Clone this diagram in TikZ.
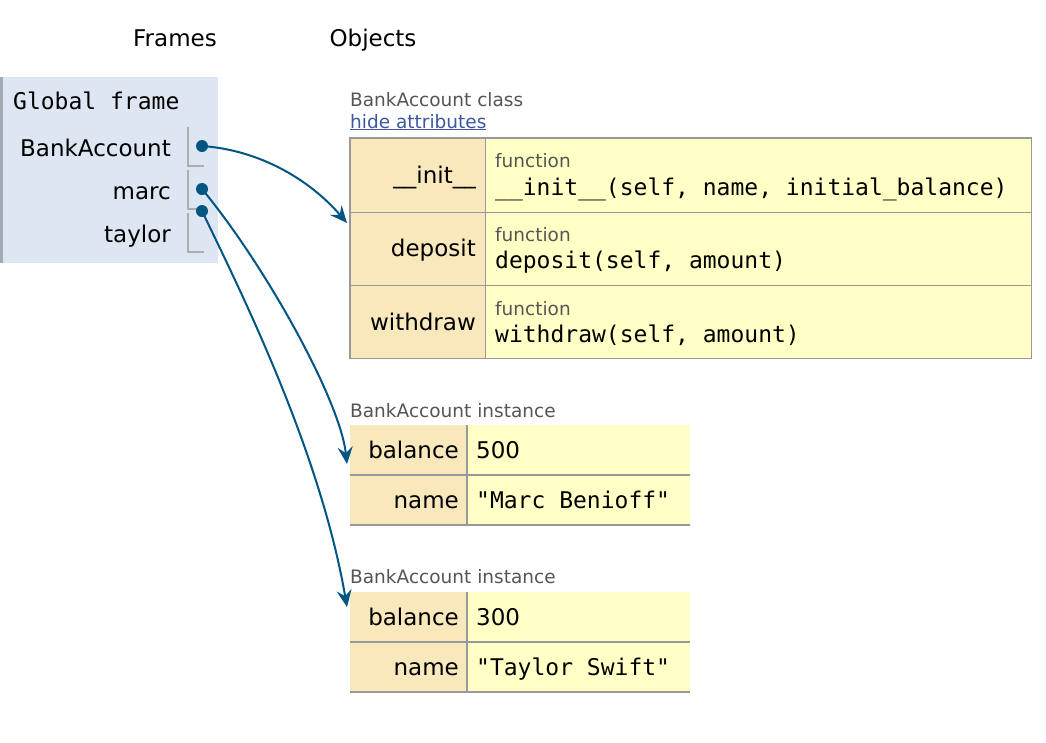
\documentclass[tikz,border=0pt]{standalone}
\usepackage{fontspec}
\setmainfont{DejaVu Sans}
\setmonofont{DejaVu Sans Mono}
\usetikzlibrary{arrows.meta}
\definecolor{framebg}{HTML}{DDE6F2}
\definecolor{framebar}{HTML}{A3AAB2}
\definecolor{keybg}{HTML}{F8E8BC}
\definecolor{valbg}{HTML}{FFFFC6}
\definecolor{cellline}{HTML}{999999}
\definecolor{ptrblue}{HTML}{005583}
\definecolor{linkblue}{HTML}{3D58A2}
\definecolor{labelgray}{HTML}{555555}
\tikzset{
  bigtext/.style={inner sep=0pt, font=\fontsize{23}{27}\selectfont},
  varname/.style={bigtext, anchor=base east},
  valtext/.style={bigtext, anchor=base west},
  codetext/.style={inner sep=0pt, anchor=base west, font=\fontsize{23}{27}\selectfont\ttfamily},
  graylabel/.style={inner sep=0pt, anchor=base west, text=labelgray, font=\fontsize{18.5}{22}\selectfont},
  keycell/.style={fill=keybg, inner sep=0pt, anchor=north west},
  valcell/.style={fill=valbg, inner sep=0pt, anchor=north west},
  cellborder/.style={draw=cellline, line width=1.5},
  bracket/.style={draw=cellline!80, line width=2},
  refdot/.style={circle, fill=ptrblue, inner sep=0pt, minimum size=12},
  pointer/.style={draw=ptrblue, line width=2, -{Stealth[length=17pt, width=15pt, inset=6pt]}}
}
\begin{document}
\begin{tikzpicture}[x=1pt, y=-1pt]
    \useasboundingbox (0,0) rectangle (1046,742);
    % headings
    \node[bigtext, anchor=base] (frames) at (175,46) {Frames};
    \node[bigtext, anchor=base] (objects) at (373,46) {Objects};
    % global frame
    \node[fill=framebg, inner sep=0pt, anchor=north west, minimum width=218, minimum height=186] (global) at (0,77) {};
    \draw[framebar, line width=3] (global.north west) ++(1.5,0) -- ++(0,186);
    \node[codetext] (globalname) at (13,109) {Global frame};
    \node[varname] (bankvar) at (171,156) {BankAccount};
    \node[varname] (marcvar) at (171,199) {marc};
    \node[varname] (taylorvar) at (171,242) {taylor};
    \draw[bracket] (188,127) |- (204,166);
    \draw[bracket] (188,170) |- (204,209);
    \draw[bracket] (188,213) |- (204,252);
    % class object
    \node[graylabel] (classlabel) at (350,106) {BankAccount class};
    \node[graylabel, text=linkblue] (hidelink) at (350,128) {\underline{hide attributes}};
    \node[keycell, minimum width=135, minimum height=74] (initK) at (350,138) {};
    \node[valcell, minimum width=546, minimum height=74] (initV) at (485,138) {};
    \node[keycell, minimum width=135, minimum height=73] (depK) at (350,212) {};
    \node[valcell, minimum width=546, minimum height=73] (depV) at (485,212) {};
    \node[keycell, minimum width=135, minimum height=73] (wdrK) at (350,285) {};
    \node[valcell, minimum width=546, minimum height=73] (wdrV) at (485,285) {};
    \draw[cellborder] (initK.north west) rectangle (wdrV.south east);
    \draw[cellborder] (initK.south west) -- (initV.south east);
    \draw[cellborder] (depK.south west) -- (depV.south east);
    \draw[cellborder] (initK.north east) -- (wdrK.south east);
    \node[varname] (initname) at (476,183) {\_\_init\_\_};
    \node[varname] (depname) at (476,256) {deposit};
    \node[varname] (wdrname) at (476,330) {withdraw};
    \node[graylabel] (initkind) at (495,167) {function};
    \node[codetext] (initcode) at (495,195) {\_\_init\_\_(self, name, initial\_balance)};
    \node[graylabel] (depkind) at (495,241) {function};
    \node[codetext] (depcode) at (495,268) {deposit(self, amount)};
    \node[graylabel] (wdrkind) at (495,315) {function};
    \node[codetext] (wdrcode) at (495,342) {withdraw(self, amount)};
    % first instance
    \node[graylabel] (marclabel) at (350,417) {BankAccount instance};
    \node[keycell, minimum width=117, minimum height=50] (marcbalK) at (350,425) {};
    \node[valcell, minimum width=223, minimum height=50] (marcbalV) at (467,425) {};
    \node[keycell, minimum width=117, minimum height=50] (marcnameK) at (350,475) {};
    \node[valcell, minimum width=223, minimum height=50] (marcnameV) at (467,475) {};
    \draw[cellborder, line width=2] (marcbalK.south west) -- (marcbalV.south east);
    \draw[cellborder, line width=2] (marcnameK.south west) -- (marcnameV.south east);
    \draw[cellborder, line width=2] (marcbalK.north east) -- (marcnameK.south east);
    \node[varname] (marcbal) at (459,458) {balance};
    \node[valtext] (marcbalval) at (476,458) {500};
    \node[varname] (marcname) at (459,508) {name};
    \node[codetext] (marcnameval) at (476,508) {"Marc Benioff"};
    % second instance
    \node[graylabel] (taylorlabel) at (350,583) {BankAccount instance};
    \node[keycell, minimum width=117, minimum height=50] (taylorbalK) at (350,592) {};
    \node[valcell, minimum width=223, minimum height=50] (taylorbalV) at (467,592) {};
    \node[keycell, minimum width=117, minimum height=50] (taylornameK) at (350,642) {};
    \node[valcell, minimum width=223, minimum height=50] (taylornameV) at (467,642) {};
    \draw[cellborder, line width=2] (taylorbalK.south west) -- (taylorbalV.south east);
    \draw[cellborder, line width=2] (taylornameK.south west) -- (taylornameV.south east);
    \draw[cellborder, line width=2] (taylorbalK.north east) -- (taylornameK.south east);
    \node[varname] (taylorbal) at (459,625) {balance};
    \node[valtext] (taylorbalval) at (476,625) {300};
    \node[varname] (taylorname) at (459,675) {name};
    \node[codetext] (taylornameval) at (476,675) {"Taylor Swift"};
    % pointers
    \node[refdot] (bankdot) at (202,146) {};
    \node[refdot] (marcdot) at (202,189) {};
    \node[refdot] (taylordot) at (202,211) {};
    \coordinate (classin) at (347,223);
    \coordinate (marcin) at (347,464);
    \coordinate (taylorin) at (347,607);
    \draw[pointer] (bankdot.center) .. controls (260,150) and (310,180) .. (classin);
    \draw[pointer] (marcdot.center) .. controls (265,265) and (340,400) .. (marcin);
    \draw[pointer] (taylordot.center) .. controls (240,290) and (320,450) .. (taylorin);
\end{tikzpicture}
\end{document}
